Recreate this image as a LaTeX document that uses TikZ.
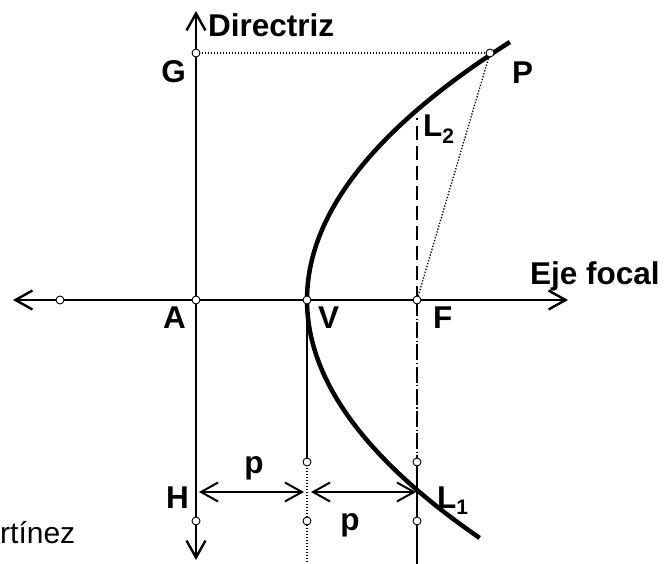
\documentclass[tikz,border=0pt]{standalone}
\usepackage{fontspec}
\setmainfont{Liberation Sans}
\usetikzlibrary{arrows.meta, calc}

\begin{document}
\begin{tikzpicture}[
    x=1pt, y=-1pt,
    >={Straight Barb[length=17pt, width=19pt]},
    axisline/.style={<->, line width=2.4pt},
    guide/.style={line width=1.9pt},
    dotline/.style={line width=1.3pt, dash pattern=on 1.3pt off 1.7pt},
    curve/.style={line width=4.5pt},
    measure/.style={<->, line width=2pt},
    dot/.style={
        circle, draw, fill=white, line width=0.9pt,
        inner sep=0pt, minimum size=8pt,
    },
    lbl/.style={font=\fontsize{31.5}{36}\selectfont\bfseries, inner sep=0pt},
]
\useasboundingbox (0,0) rectangle (664,564);

% Key positions (pixel grid, y downward)
\def\xd{196}
\def\xv{307}
\def\xf{417}
\def\ya{300}

% =============== Points ===============
\coordinate (A)  at (\xd, \ya);
\coordinate (V)  at (\xv, \ya);
\coordinate (F)  at (\xf, \ya);
\coordinate (Q)  at (60, \ya);
\coordinate (G)  at (\xd, 53);
\coordinate (P)  at (490, 53);
\coordinate (H)  at (\xd, 521);
\coordinate (L2) at (\xf, 118);
\coordinate (Va) at (\xv, 462);
\coordinate (Vb) at (\xv, 521);
\coordinate (Fa) at (\xf, 462);
\coordinate (Fb) at (\xf, 521);
\coordinate (axL)  at (13, \ya);
\coordinate (axR)  at (568, \ya);
\coordinate (dirT) at (\xd, 11);
\coordinate (dirB) at (\xd, 560);
\coordinate (Vend) at (\xv, 564);
\coordinate (Fend) at (\xf, 564);

% =============== Axes ===============
\draw[axisline] (axL) -- (axR);
\draw[axisline] (dirT) -- (dirB);

% =============== Construction lines ===============
\draw[dotline] (G) -- (P);
\draw[dotline] (P) -- (F);
\draw[line width=2.2pt, dash pattern=on 14pt off 6pt] (F) -- (L2);
\draw[line width=1.5pt, dash pattern=on 16pt off 2.5pt on 1.2pt off 2.5pt] (F) -- (Fa);
\draw[guide] (Fa) -- (Fend);
\draw[guide] (V) -- (Va);
\draw[dotline] (Va) -- (Vend);

% Distance p on each side of the vertex
\coordinate (m1) at (199, 492);
\coordinate (m2) at (304, 492);
\coordinate (m3) at (311, 492);
\coordinate (m4) at (416, 492);
\draw[measure] (m1) -- (m2);
\draw[measure] (m3) -- (m4);

% =============== Parabola ===============
\draw[curve] plot[domain=-2.58:2.38, samples=60, smooth]
    ({\xv+30.49*\x*\x}, {\ya+100*\x});

% =============== Marks ===============
\node[dot] (mQ)  at (Q)  {};
\node[dot] (mA)  at (A)  {};
\node[dot] (mV)  at (V)  {};
\node[dot] (mF)  at (F)  {};
\node[dot] (mG)  at (G)  {};
\node[dot] (mP)  at (P)  {};
\node[dot] (mH)  at (H)  {};
\node[dot] (mVa) at (Va) {};
\node[dot] (mVb) at (Vb) {};
\node[dot] (mFa) at (Fa) {};
\node[dot] (mFb) at (Fb) {};

% =============== Labels ===============
\node[lbl, anchor=base west] (tDir) at (208, 37)  {Directriz};
\node[lbl, anchor=base west] (tEje) at (530, 284) {Eje focal};
\node[lbl, anchor=base east] (tG)   at (186, 83)  {G};
\node[lbl, anchor=base west] (tP)   at (512, 84)  {P};
\node[lbl, anchor=base west] (tL2)  at (423, 137)
    {L\raisebox{-0.22em}{\fontsize{21}{21}\selectfont 2}};
\node[lbl, anchor=base west] (tA)   at (163, 328) {A};
\node[lbl, anchor=base west] (tV)   at (318, 328) {V};
\node[lbl, anchor=base west] (tF)   at (433, 328) {F};
\node[lbl, anchor=base west] (tH)   at (166, 508) {H};
\node[lbl, anchor=base west] (tL1)  at (437, 508)
    {L\raisebox{-0.22em}{\fontsize{21}{21}\selectfont 1}};
\node[lbl, anchor=base] (tp1) at (254, 473) {p};
\node[lbl, anchor=base] (tp2) at (350, 530) {p};
\node[font=\fontsize{30}{36}\selectfont, inner sep=0pt, anchor=base west]
    (tName) at (0, 543) {rtínez};

\end{tikzpicture}
\end{document}
